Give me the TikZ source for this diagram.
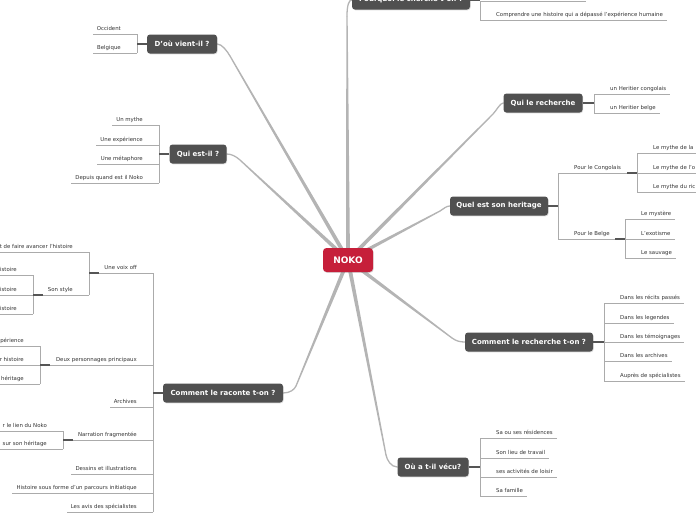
\documentclass[tikz,border=0pt]{standalone}
\usepackage{fontspec}
\setmainfont{DejaVu Sans}
\usetikzlibrary{calc,shadows,backgrounds}
\definecolor{topicgray}{HTML}{505050}
\definecolor{nokored}{HTML}{C61F3A}
\definecolor{maingray}{HTML}{B4B4B4}
\definecolor{ulgray}{HTML}{ABABAB}
\definecolor{conngray}{HTML}{555555}
\definecolor{leaftext}{HTML}{333333}
\tikzset{
  topic/.style={fill=topicgray, rounded corners=3pt, text=white,
    font=\fontsize{7}{8}\selectfont\bfseries, minimum height=19pt, inner sep=0pt,
    drop shadow={opacity=0.3, shadow xshift=0.6pt, shadow yshift=-0.8pt}},
  centre/.style={fill=nokored, rounded corners=3.5pt, text=white,
    font=\fontsize{9}{10}\selectfont\bfseries, minimum width=50pt, minimum height=24pt, inner sep=0pt,
    drop shadow={opacity=0.3, shadow xshift=0.6pt, shadow yshift=-0.8pt}},
  leaf/.style={font=\fontsize{5.4}{6}\selectfont, text=leaftext, inner sep=0pt},
  uline/.style={draw=ulgray, line width=0.8pt},
  conn/.style={draw=conngray, line width=1.2pt},
  mainline/.style={draw=maingray, line width=1.3pt, line cap=round},
  taper/.style={fill=maingray},
}
% tapered main branch: from node #1 centre straight to #2, then curve via #3,#4 to #5
\newcommand\mline[5]{%
  \fill[taper] ($(#1.center)!2pt!90:#2$) -- ($#2!0.65pt!-90:(#1.center)$)
     -- ($#2!0.65pt!90:(#1.center)$) -- ($(#1.center)!2pt!-90:#2$) -- cycle;
  \draw[mainline] #2 .. controls #3 and #4 .. #5;
}
\newcommand\leafR[4]{%
  \coordinate (#1a) at (#2,#3);
  \node[leaf, anchor=base west] (#1) at ($(#1a)+(16,-3.5)$) {#4};
  \draw[uline] (#1a) -- ($(#1a -| #1.east)+(4,0)$);
}
\newcommand\leafL[4]{%
  \coordinate (#1a) at (#2,#3);
  \node[leaf, anchor=base east] (#1) at ($(#1a)+(-16,-3.5)$) {#4};
  \draw[uline] (#1a) -- ($(#1a -| #1.west)+(-4,0)$);
}
\newcommand\leafRx[5]{%
  \coordinate (#1a) at (#2,#3); \coordinate (#1b) at (#4,#3);
  \node[leaf, anchor=base west] (#1) at ($(#1a)+(16,-3.5)$) {#5};
  \draw[uline] (#1a) -- (#1b);
}
\newcommand\leafLx[5]{%
  \coordinate (#1a) at (#2,#3); \coordinate (#1b) at (#4,#3);
  \node[leaf, anchor=base east] (#1) at ($(#1a)+(-16,-3.5)$) {#5};
  \draw[uline] (#1a) -- (#1b);
}
\begin{document}
\begin{tikzpicture}[x=1pt,y=-1pt]
\useasboundingbox (0,0) rectangle (696,520);
\clip (0,0) rectangle (696,520);

% central and topic nodes
\node[centre] (noko) at (348,260) {NOKO};
\node[topic, minimum width=118pt] (pq)  at (411,0)   {Pourquoi le cherche t-on ?};
\node[topic, minimum width=70pt]  (dou) at (182,44)  {D'où vient-il ?};
\node[topic, minimum width=57pt]  (qui) at (198,154) {Qui est-il ?};
\node[topic, minimum width=79pt]  (qlr) at (543,103) {Qui le recherche};
\node[topic, minimum width=98pt]  (qes) at (499,206) {Quel est son heritage};
\node[topic, minimum width=128pt] (clr) at (529,342) {Comment le recherche t-on ?};
\node[topic, minimum width=71pt]  (ou)  at (433,467) {Où a t-il vécu?};
\node[topic, minimum width=120pt] (crt) at (223,393) {Comment le raconte t-on ?};

\begin{pgfonlayer}{background}
\mline{noko}{(347,16)}{(347,5)}{(349,0)}{(pq.west)}
\mline{noko}{(230,56)}{(227,51)}{(222,44)}{(dou.east)}
\mline{noko}{(240,160)}{(235.6,156)}{(231,154)}{(qui.east)}
\mline{noko}{(493,114)}{(496.5,110.5)}{(500,103)}{(qlr.west)}
\mline{noko}{(440,211)}{(443.5,209)}{(446,206)}{(qes.west)}
\mline{noko}{(452,338)}{(456,341)}{(460,342)}{(clr.west)}
\mline{noko}{(386,455)}{(387,460)}{(391,467)}{(ou.west)}
\mline{noko}{(296,386)}{(294.5,389.5)}{(290,393)}{(crt.east)}
\end{pgfonlayer}

% Pourquoi le cherche t-on ?
\coordinate (p1a) at (480,1); \coordinate (p1b) at (586,1);
\draw[uline] (p1a) -- (p1b);
\leafR{p2}{480}{20}{Comprendre une histoire qui a dépassé l'expérience humaine}
\draw[uline] (p1a) -- (p2a);
\draw[conn] (pq.east) -- (pq.east -| p1a);

% D'ou vient-il ?
\leafL{d1}{137}{34}{Occident}
\leafL{d2}{137}{53}{Belgique}
\draw[uline] (d1a) -- (d2a);
\draw[conn] (dou.west) -- (dou.west -| d1a);

% Qui est-il ?
\leafL{q1}{159}{125}{Un mythe}
\leafL{q2}{159}{145}{Une expérience}
\leafL{q3}{159}{164}{Une métaphore}
\leafL{q4}{159}{183}{Depuis quand est il Noko}
\draw[uline] (q1a) -- (q4a);
\draw[conn] (qui.west) -- (qui.west -| q1a);

% Qui le recherche
\leafR{r1}{594}{94}{un Heritier congolais}
\leafR{r2}{594}{113}{un Heritier belge}
\draw[uline] (r1a) -- (r2a);
\draw[conn] (qlr.east) -- (qlr.east -| r1a);

% Quel est son heritage
\leafRx{h1}{558}{173}{637}{Pour le Congolais}
\leafRx{h2}{558}{239}{625}{Pour le Belge}
\draw[uline] (h1a) -- (h2a);
\draw[conn] (qes.east) -- (qes.east -| h1a);
\leafRx{h11}{637}{153}{700}{Le mythe de la}
\leafRx{h12}{637}{173}{700}{Le mythe de l'o}
\leafRx{h13}{637}{192}{700}{Le mythe du ric}
\draw[uline] (h11a) -- (h13a);
\draw[conn] ($(h1b)+(-10,0)$) -- (h1b);
\leafR{h21}{625}{219}{Le mystère}
\leafR{h22}{625}{239}{L'exotisme}
\leafR{h23}{625}{258}{Le sauvage}
\draw[uline] (h21a) -- (h23a);
\draw[conn] ($(h2b)+(-10,0)$) -- (h2b);

% Comment le recherche t-on ?
\leafR{c1}{604}{303}{Dans les récits passés}
\leafR{c2}{604}{323}{Dans les legendes}
\leafR{c3}{604}{342}{Dans les témoignages}
\leafR{c4}{604}{361}{Dans les archives}
\leafR{c5}{604}{381}{Auprès de spécialistes}
\draw[uline] (c1a) -- (c5a);
\draw[conn] (clr.east) -- (clr.east -| c1a);

% Ou a t-il vecu?
\leafR{o1}{480}{438}{Sa ou ses résidences}
\leafR{o2}{480}{458}{Son lieu de travail}
\leafR{o3}{480}{477}{ses activités de loisir}
\leafR{o4}{480}{496}{Sa famille}
\draw[uline] (o1a) -- (o4a);
\draw[conn] (ou.east) -- (ou.east -| o1a);

% Comment le raconte t-on ?
\leafLx{k1}{153}{273}{89}{Une voix off}
\leafLx{k2}{153}{365}{40}{Deux personnages principaux}
\leafL{k3}{153}{407}{Archives}
\leafLx{k4}{153}{440}{63}{Narration fragmentée}
\leafL{k5}{153}{474}{Dessins et illustrations}
\leafL{k6}{153}{493}{Histoire sous forme d'un parcours initiatique}
\leafL{k7}{153}{512}{Les avis des spécialistes}
\draw[uline] (k1a) -- (k7a);
\draw[conn] (crt.west) -- (crt.west -| k1a);

\leafLx{k11}{89}{252}{-5}{t de faire avancer l'histoire}
\leafLx{k12}{89}{295}{33}{Son style}
\draw[uline] (k11a) -- (k12a);
\draw[conn] ($(k1b)+(10,0)$) -- (k1b);
\leafLx{k121}{33}{275}{-5}{histoire}
\leafLx{k122}{33}{295}{-5}{histoire}
\leafLx{k123}{33}{314}{-5}{histoire}
\draw[uline] (k121a) -- (k123a);
\draw[conn] ($(k12b)+(10,0)$) -- (k12b);

\leafLx{k21}{40}{346}{-5}{expérience}
\leafLx{k22}{40}{365}{-5}{r histoire}
\leafLx{k23}{40}{384}{-5}{héritage}
\draw[uline] (k21a) -- (k23a);
\draw[conn] ($(k2b)+(10,0)$) -- (k2b);

\leafLx{k41}{63}{431}{-5}{r le lien du Noko}
\leafLx{k42}{63}{449}{-5}{sur son héritage}
\draw[uline] (k41a) -- (k42a);
\draw[conn] ($(k4b)+(10,0)$) -- (k4b);
\end{tikzpicture}
\end{document}
